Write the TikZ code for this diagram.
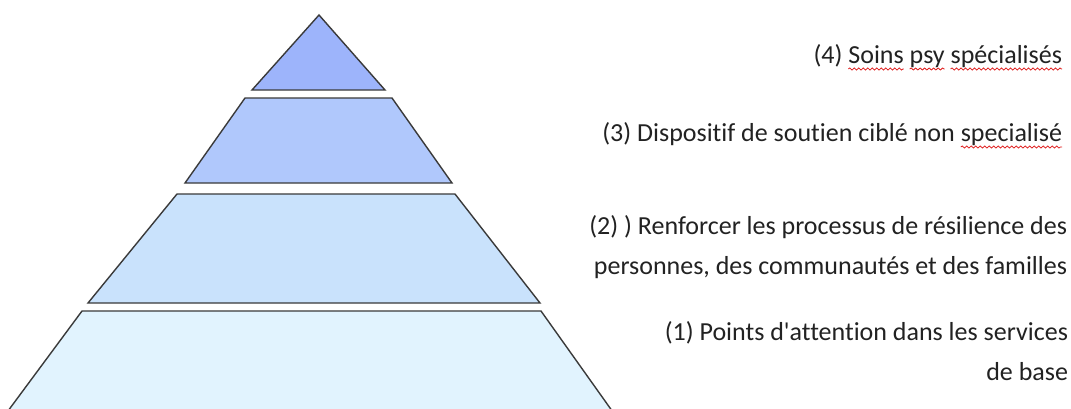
\documentclass[tikz,border=0pt]{standalone}
\usepackage{fontspec}
\newfontfamily\lblfont{Carlito}[Ligatures=NoCommon]
\usetikzlibrary{decorations.pathmorphing}
\definecolor{tierfour}{HTML}{9DB4FB}
\definecolor{tierthree}{HTML}{B0C8FC}
\definecolor{tiertwo}{HTML}{C9E2FC}
\definecolor{tierone}{HTML}{E1F3FE}
\definecolor{edgegray}{HTML}{3A3A3A}
\definecolor{textgray}{HTML}{222222}
\definecolor{spellred}{HTML}{E02020}
\begin{document}
\begin{tikzpicture}[x=1pt,y=-1pt,
  tier/.style={draw=edgegray, line width=1.4pt, line join=miter},
  lbl/.style={inner sep=0pt, outer sep=0pt, anchor=base east, font=\lblfont\fontsize{26}{30}\selectfont, text=textgray},
  wavy/.style={draw=spellred, line width=0.8pt, decorate, decoration={snake, amplitude=1pt, segment length=4.5pt}}]
\useasboundingbox (0,0) rectangle (1071,408);
\fill[white] (0,0) rectangle (1071,408);
\begin{scope}
\clip (0,0) rectangle (1071,408);
% tiers
\draw[tier, fill=tierone] (82,311) -- (541,311) -- (615,415) -- (5,415) -- cycle;
\draw[tier, fill=tiertwo] (177,194) -- (455,194) -- (540,303) -- (88,303) -- cycle;
\draw[tier, fill=tierthree] (245,98) -- (392,98) -- (452,183) -- (185,183) -- cycle;
\draw[tier, fill=tierfour] (319,15) -- (385,90) -- (252,90) -- cycle;
\end{scope}
% level 4
\node[lbl] (l4d) at (1062,63) {spécialisés};
\node[lbl] (l4c) at ([xshift=-5.9pt]l4d.base west) {psy};
\node[lbl] (l4b) at ([xshift=-5.9pt]l4c.base west) {Soins};
\node[lbl] (l4a) at ([xshift=-5.9pt]l4b.base west) {(4)};
\draw[wavy] ([yshift=-6pt]l4b.base west) -- ([yshift=-6pt]l4b.base east);
\draw[wavy] ([yshift=-6pt]l4c.base west) -- ([yshift=-6pt]l4c.base east);
\draw[wavy] ([yshift=-6pt]l4d.base west) -- ([yshift=-6pt]l4d.base east);
% level 3
\node[lbl] (l3b) at (1062,141) {specialisé};
\node[lbl] (l3a) at ([xshift=-5.9pt]l3b.base west) {(3) Dispositif de soutien ciblé non};
\draw[wavy] ([yshift=-6pt]l3b.base west) -- ([yshift=-6pt]l3b.base east);
% level 2
\node[lbl] (l2a) at (1067,234) {(2) ) Renforcer les processus de résilience des};
\node[lbl] (l2b) at (1067,274) {personnes, des communautés et des familles};
% level 1
\node[lbl] (l1a) at (1068,340) {(1) Points d'attention dans les services};
\node[lbl] (l1b) at (1068,380) {de base};
\end{tikzpicture}
\end{document}
